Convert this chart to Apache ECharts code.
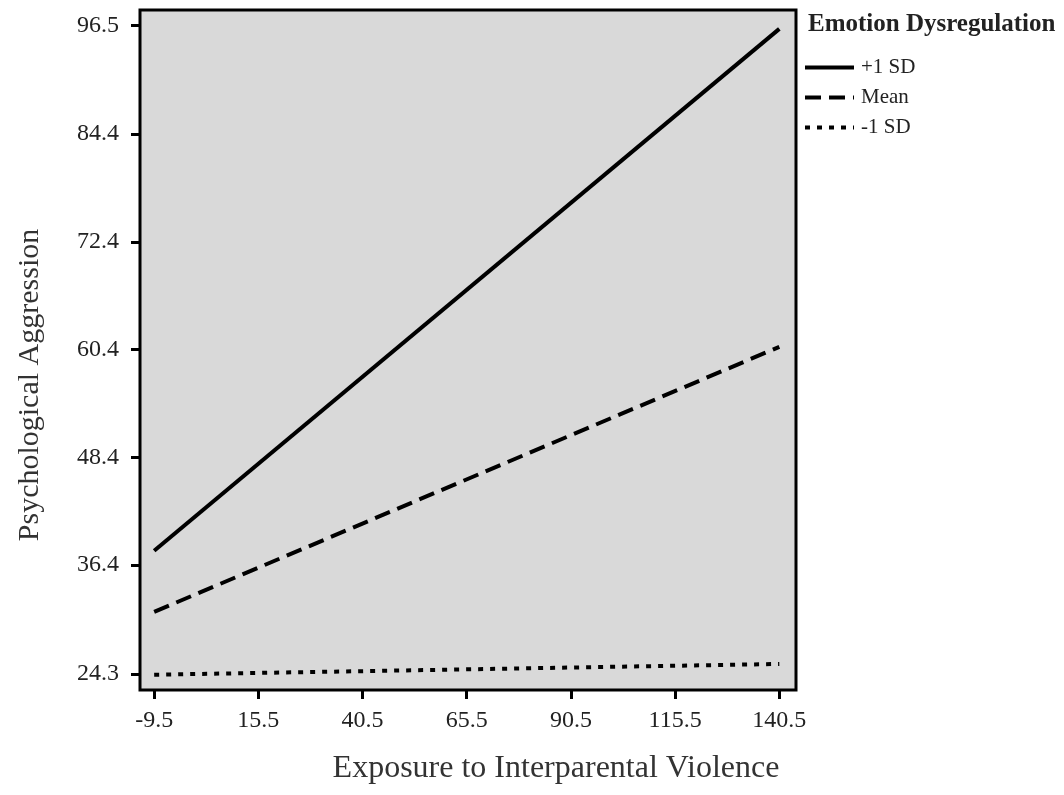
<!DOCTYPE html>
<html>
<head>
<meta charset="utf-8">
<script src="https://cdn.jsdelivr.net/npm/echarts@6/dist/echarts.min.js"></script>
<style>
html,body{margin:0;padding:0;background:#fff;}
#chart{width:1064px;height:795px;}
</style>
</head>
<body>
<div id="chart"></div>
<script>
const xTicks = [-9.5, 15.5, 40.5, 65.5, 90.5, 115.5, 140.5];
const yTicks = [24.3, 36.4, 48.4, 60.4, 72.4, 84.4, 96.5];
const xValues = [-9.5, 140.5];
const plus1SD = [38.0, 96.1];
const meanVals = [31.2, 60.7];
const minus1SD = [24.2, 25.4];
const seriesNames = ['+1 SD', 'Mean', '-1 SD'];
const legendTitle = 'Emotion Dysregulation';
const xTitle = 'Exposure to Interparental Violence';
const yTitle = 'Psychological Aggression';

const FONT = '"Liberation Serif", "Times New Roman", serif';
const pairs = vals => xValues.map((x, i) => [x, vals[i]]);

const chart = echarts.init(document.getElementById('chart'));
const lineBase = { type: 'line', symbol: 'none', showSymbol: false, silent: true, animation: false };

chart.setOption({
  animation: false,
  backgroundColor: '#ffffff',
  title: {
    text: legendTitle, left: 808, top: 12, padding: 0,
    textStyle: { fontFamily: FONT, fontSize: 25, fontWeight: 'bold', color: '#222' }
  },
  legend: {
    orient: 'vertical', left: 803, top: 57, padding: 0,
    itemWidth: 49, itemHeight: 12, itemGap: 9,
    data: seriesNames,
    itemStyle: { opacity: 0 },
    lineStyle: { width: 4, color: '#000' },
    textStyle: { fontFamily: FONT, fontSize: 21, color: '#222', padding: [0, 0, 0, 2] }
  },
  grid: {
    left: 140, right: 268, top: 10, bottom: 105,
    show: true, backgroundColor: '#d9d9d9', borderColor: '#000', borderWidth: 3
  },
  xAxis: {
    type: 'value', min: -12.9, max: 144.5,
    name: xTitle, nameLocation: 'middle', nameGap: 63,
    nameTextStyle: { fontFamily: FONT, fontSize: 32, color: '#333', padding: [0, 0, 0, 176] },
    axisLine: { show: false, onZero: false },
    splitLine: { show: false },
    axisTick: { show: true, customValues: xTicks, length: 9, lineStyle: { color: '#000', width: 3 } },
    axisLabel: { customValues: xTicks, formatter: v => v.toFixed(1), fontFamily: FONT, fontSize: 24, color: '#222', margin: 19 }
  },
  yAxis: {
    type: 'value', min: 22.5, max: 98.2,
    name: yTitle, nameLocation: 'middle', nameGap: 95,
    nameTextStyle: { fontFamily: FONT, fontSize: 30, color: '#333', padding: [0, 70, 0, 0] },
    axisLine: { show: false, onZero: false },
    splitLine: { show: false },
    axisTick: { show: true, customValues: yTicks, length: 9, lineStyle: { color: '#000', width: 3 } },
    axisLabel: { customValues: yTicks, formatter: v => v.toFixed(1), fontFamily: FONT, fontSize: 24, color: '#222', margin: 21 }
  },
  series: [
    Object.assign({}, lineBase, { name: seriesNames[0], data: pairs(plus1SD), lineStyle: { color: '#000', width: 4, type: 'solid' }, itemStyle: { color: '#000' } }),
    Object.assign({}, lineBase, { name: seriesNames[1], data: pairs(meanVals), lineStyle: { color: '#000', width: 4, type: [16, 8] }, itemStyle: { color: '#000' } }),
    Object.assign({}, lineBase, { name: seriesNames[2], data: pairs(minus1SD), lineStyle: { color: '#000', width: 4, type: [5, 7] }, itemStyle: { color: '#000' } })
  ]
});
</script>
</body>
</html>
